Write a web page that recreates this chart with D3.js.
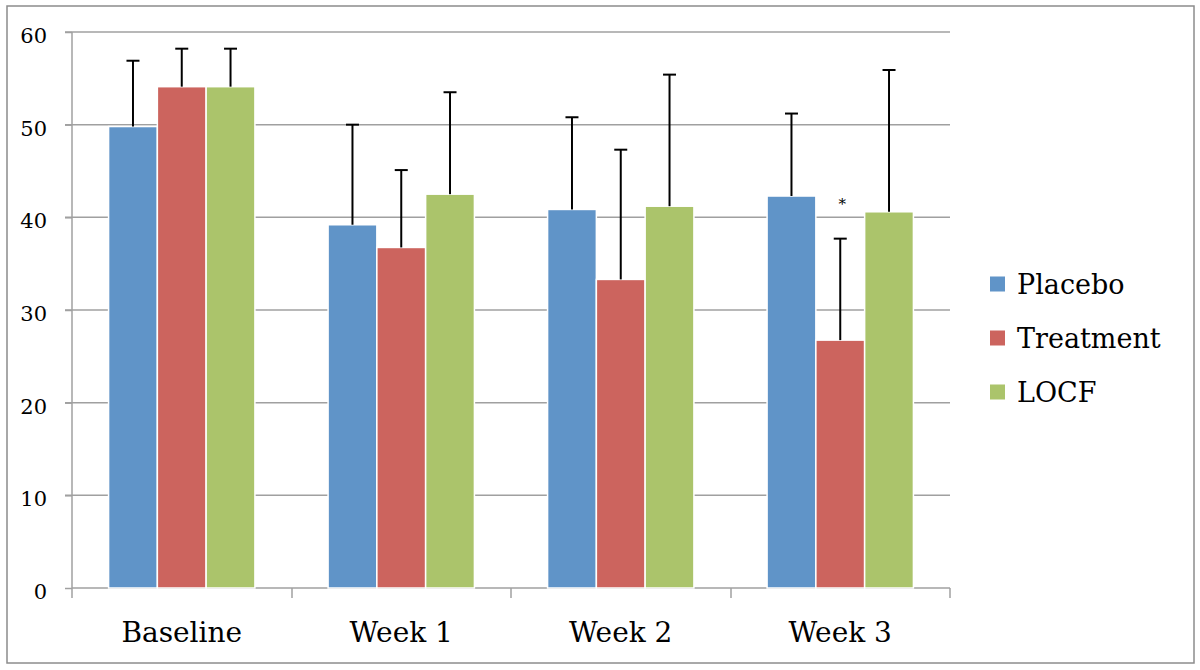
<!DOCTYPE html>
<html>
<head>
<meta charset="utf-8">
<script src="https://cdn.jsdelivr.net/npm/d3@7/dist/d3.min.js"></script>
<style>
  html, body { margin: 0; padding: 0; background: #fff; }
  svg { display: block; }
  text { font-family: "DejaVu Serif", serif; fill: #000; }
</style>
</head>
<body>
<svg id="chart" width="1200" height="670"></svg>
<script>
// ---- data ----
const categories = ["Baseline", "Week 1", "Week 2", "Week 3"];
const seriesNames = ["Placebo", "Treatment", "LOCF"];
const placebo   = [49.8, 39.2, 40.85, 42.3];
const treatment = [54.1, 36.75, 33.3, 26.75];
const locf      = [54.1, 42.5, 41.2, 40.6];
const placeboErr   = [7.1, 10.8, 9.95, 8.9];
const treatmentErr = [4.1, 8.35, 14.0, 10.95];
const locfErr      = [4.1, 11.0, 14.2, 15.3];
const yTicks = [0, 10, 20, 30, 40, 50, 60];
const colors = ["#6094C8", "#CC645E", "#ABC46B"];
const significance = [{ category: "Week 3", series: "Treatment", label: "*", at: 40.9 }];

const seriesValues = [placebo, treatment, locf];
const seriesErrors = [placeboErr, treatmentErr, locfErr];

const svg = d3.select("#chart");

// outer frame
svg.append("rect")
  .attr("x", 7).attr("y", 6).attr("width", 1187).attr("height", 657)
  .attr("fill", "#fff").attr("stroke", "#8c8c8c").attr("stroke-width", 1.5);

const mLeft = 72, mRight = 950, mTop = 32, mBottom = 588;

const x = d3.scaleBand().domain(categories).range([mLeft, mRight])
  .paddingInner(1/3).paddingOuter(1/6);
const xs = d3.scaleBand().domain(seriesNames).range([0, x.bandwidth()]);
const y = d3.scaleLinear().domain([0, 60]).range([mBottom, mTop]);

// gridlines
svg.append("g").selectAll("line").data(yTicks.filter(d => d > 0)).join("line")
  .attr("x1", mLeft - 7).attr("x2", mRight)
  .attr("y1", d => y(d)).attr("y2", d => y(d))
  .attr("stroke", "#a0a0a0").attr("stroke-width", 1.5);

// y axis
const yAxis = svg.append("g").attr("transform", `translate(${mLeft},0)`)
  .call(d3.axisLeft(y).tickValues(yTicks).tickSize(7).tickPadding(18));
yAxis.select(".domain").attr("stroke", "#a0a0a0").attr("stroke-width", 1.5)
  .attr("d", `M0,${mTop}V${mBottom + 10}`);
yAxis.selectAll(".tick line").attr("stroke", "#a0a0a0").attr("stroke-width", 1.5);
yAxis.selectAll(".tick text").attr("font-size", 21).attr("font-family", "DejaVu Serif").attr("dy", "0.5em");

// x axis
const xAxis = svg.append("g").attr("transform", `translate(0,${mBottom})`)
  .call(d3.axisBottom(x).tickSize(0).tickPadding(34));
xAxis.select(".domain").attr("stroke", "#a0a0a0").attr("stroke-width", 1.5)
  .attr("d", `M${mLeft},0H${mRight}`);
xAxis.selectAll(".tick text").attr("font-size", 28).attr("font-family", "DejaVu Serif");
// category boundary ticks
const boundaries = categories.map(c => x(c) - x.step() * x.paddingInner() / 2);
boundaries.push(mRight);
svg.append("g").selectAll("line").data(boundaries.slice(1)).join("line")
  .attr("x1", d => Math.round(d)).attr("x2", d => Math.round(d))
  .attr("y1", mBottom).attr("y2", mBottom + 10)
  .attr("stroke", "#a0a0a0").attr("stroke-width", 1.5);

// bars
const flat = [];
categories.forEach((c, i) => {
  seriesNames.forEach((s, j) => {
    flat.push({ category: c, series: s, value: seriesValues[j][i], err: seriesErrors[j][i], color: colors[j] });
  });
});

svg.append("g").selectAll("rect").data(flat).join("rect")
  .attr("x", d => x(d.category) + xs(d.series))
  .attr("y", d => y(d.value))
  .attr("width", xs.bandwidth())
  .attr("height", d => y(0) - y(d.value))
  .attr("fill", d => d.color)
  .attr("stroke", "#fff").attr("stroke-width", 1.5);

// error bars
const eb = svg.append("g").selectAll("g").data(flat).join("g")
  .attr("transform", d => `translate(${x(d.category) + xs(d.series) + xs.bandwidth() / 2},0)`);
eb.append("line")
  .attr("x1", 0).attr("x2", 0)
  .attr("y1", d => y(d.value)).attr("y2", d => y(d.value + d.err))
  .attr("stroke", "#000").attr("stroke-width", 2);
eb.append("line")
  .attr("x1", -6.5).attr("x2", 6.5)
  .attr("y1", d => y(d.value + d.err)).attr("y2", d => y(d.value + d.err))
  .attr("stroke", "#000").attr("stroke-width", 2);

// significance markers
svg.append("g").selectAll("text").data(significance).join("text")
  .attr("x", d => x(d.category) + xs(d.series) + xs.bandwidth() / 2 + 2)
  .attr("y", d => y(d.at))
  .attr("text-anchor", "middle")
  .attr("font-size", 15)
  .attr("fill", "#333")
  .text(d => d.label);

// legend
const legend = svg.append("g").attr("transform", "translate(990,284)");
const li = legend.selectAll("g").data(seriesNames).join("g")
  .attr("transform", (d, i) => `translate(0,${i * 54})`);
li.append("rect").attr("x", 0).attr("y", -7.5).attr("width", 15).attr("height", 15)
  .attr("fill", (d, i) => colors[i]);
li.append("text").attr("x", 27).attr("y", 0).attr("dy", "0.36em")
  .attr("font-size", 27).text(d => d);
</script>
</body>
</html>
